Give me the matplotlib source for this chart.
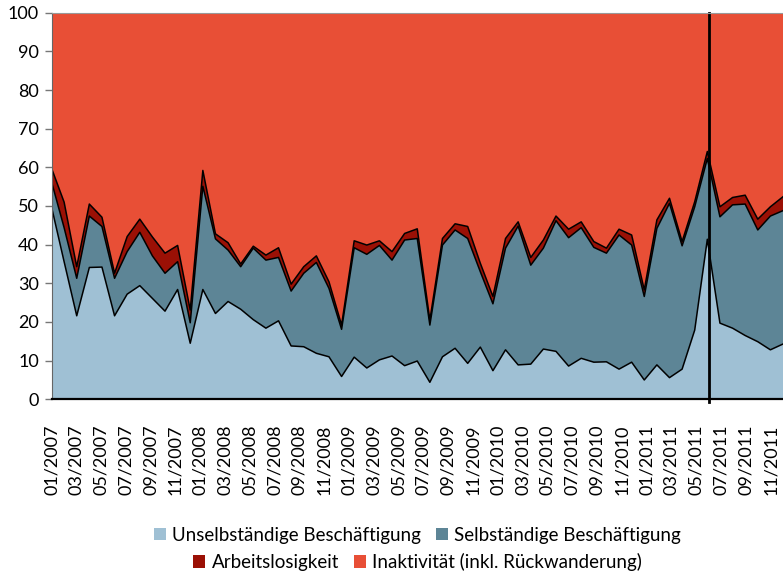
import matplotlib
matplotlib.use("Agg")
import matplotlib.pyplot as plt
import numpy as np
from matplotlib.patches import Patch

plt.rcParams['font.family'] = ['Lato', 'DejaVu Sans']

# Months 01/2007 .. 11/2011 (data); label axis runs 01/2007 .. 12/2011
months = [f"{m:02d}/{y}" for y in range(2007, 2012) for m in range(1, 13)]
data_months = months[:59]

# Values in percent
unselbstaendig = [49.8, 35.6, 21.6, 34.1, 34.2, 21.6, 27.2, 29.4, 26.1, 22.8,
                  28.4, 14.5, 28.4, 22.2, 25.3, 23.3, 20.6, 18.4, 20.3, 13.8,
                  13.6, 11.9, 11.0, 5.9, 10.9, 8.1, 10.2, 11.2, 8.7, 9.9,
                  4.4, 11.0, 13.2, 9.3, 13.5, 7.4, 12.8, 8.9, 9.1, 13.0,
                  12.4, 8.6, 10.6, 9.6, 9.7, 7.8, 9.6, 5.0, 8.9, 5.6,
                  7.8, 17.9, 41.4, 19.7, 18.4, 16.5, 14.9, 12.8, 14.3]
# cumulative: Unselbständig + Selbständig
cum_selbst = [56.3, 44.4, 31.3, 47.4, 44.7, 31.3, 38.2, 43.2, 37.1, 32.6,
              35.6, 19.8, 55.1, 41.5, 38.6, 34.3, 39.1, 36.0, 36.7, 28.0,
              32.6, 35.4, 28.7, 18.1, 39.2, 37.5, 39.8, 36.0, 41.2, 41.6,
              19.2, 39.9, 43.8, 41.6, 33.0, 24.7, 39.1, 44.8, 34.7, 39.1,
              46.2, 41.8, 44.4, 39.3, 37.8, 42.5, 39.9, 26.6, 44.2, 50.7,
              39.7, 49.8, 62.3, 47.2, 50.3, 50.5, 43.8, 47.4, 48.8]
# cumulative: + Arbeitslosigkeit
cum_alos = [59.8, 51.0, 34.3, 50.5, 47.1, 32.6, 42.1, 46.6, 42.0, 37.8,
            39.8, 23.1, 59.2, 42.8, 40.5, 35.0, 39.6, 37.3, 39.2, 29.8,
            34.3, 37.1, 30.4, 19.2, 41.0, 39.9, 41.0, 38.2, 42.9, 44.1,
            20.5, 41.6, 45.4, 44.7, 35.2, 26.6, 41.6, 45.9, 36.7, 41.2,
            47.4, 44.0, 45.9, 40.8, 39.1, 44.0, 42.5, 28.3, 46.4, 52.0,
            40.8, 51.1, 64.1, 49.8, 52.2, 52.8, 46.6, 49.8, 52.4]

selbstaendig = [c - u for c, u in zip(cum_selbst, unselbstaendig)]
arbeitslos = [a - c for a, c in zip(cum_alos, cum_selbst)]
inaktiv = [100 - a for a in cum_alos]

labels = ["Unselbständige Beschäftigung", "Selbständige Beschäftigung",
          "Arbeitslosigkeit", "Inaktivität (inkl. Rückwanderung)"]
colors = ["#9FC0D4", "#5D8596", "#9B1005", "#E84F36"]

x = np.arange(len(data_months))
fig = plt.figure(figsize=(7.83, 5.76), dpi=100)
ax = fig.add_axes([51.5/783, 1-399.3/576, 1-51.5/783, (399.3-12.7)/576])

stack = np.vstack([unselbstaendig, selbstaendig, arbeitslos, inaktiv])
ax.stackplot(x, stack, colors=colors, linewidth=0)
cum = np.cumsum(stack, axis=0)
for k in range(3):
    ax.plot(x, cum[k], color='black', lw=1.1)

ax.axvline(52.15, color='black', lw=2, ymin=-0.006, clip_on=False)

ax.set_xlim(0, len(data_months) - 1)
ax.set_ylim(0, 100)
ax.set_yticks(range(0, 101, 10))
ax.set_xticks([])
ax.tick_params(axis='y', length=5, width=1, color='#777777', labelsize=13, pad=4)

# month label axis (01/2007 .. 12/2011 across the plot width)
lab = ax.twiny()
lab.set_xlim(0, len(months) - 1)
lab.xaxis.set_ticks_position('bottom')
lab.xaxis.set_label_position('bottom')
lab.set_xticks(np.arange(0, len(months), 2))
lab.set_xticklabels(months[::2], rotation=90, fontsize=13, va='top', ha='center')
lab.tick_params(axis='x', length=0, pad=18)
for s in lab.spines.values():
    s.set_visible(False)

ax.spines['right'].set_visible(False)
ax.spines['top'].set_color('#999999')
ax.spines['left'].set_color('#666666')
ax.spines['bottom'].set_color('black')
ax.spines['bottom'].set_linewidth(1.6)

handles = [Patch(facecolor=c, edgecolor='none') for c in colors]
kw = dict(frameon=False, fontsize=13.5, handlelength=0.62, handleheight=0.62,
          handletextpad=0.35, columnspacing=0.8, ncol=2, borderaxespad=0,
          borderpad=0)
fig.legend(handles[:2], labels[:2], loc='center',
           bbox_to_anchor=(417.7/783, 1-535/576), **kw)
fig.legend(handles[2:], labels[2:], loc='center',
           bbox_to_anchor=(417.7/783, 1-562/576), **kw)

fig.savefig("out.png", dpi=100)
